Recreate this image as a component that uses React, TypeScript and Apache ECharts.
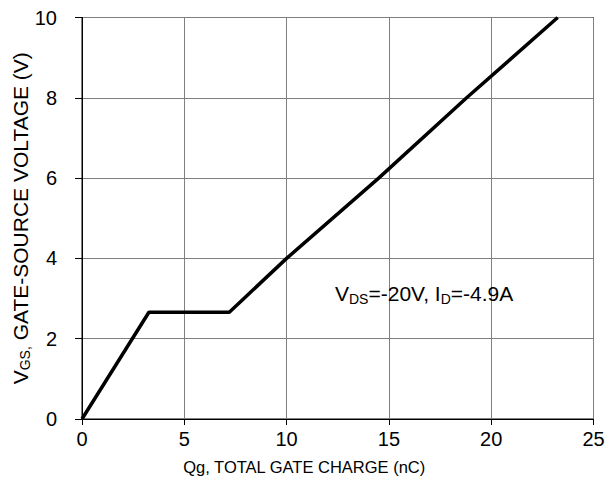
import React, { useEffect, useRef } from "react";
import * as echarts from "echarts";

const xTicks = [0, 5, 10, 15, 20, 25];
const yTicks = [0, 2, 4, 6, 8, 10];
const chargeNC = [0, 3.27, 7.2, 10.0, 14.5, 18.8, 23.25];
const gateVoltage = [0, 2.66, 2.66, 4.0, 6.0, 8.0, 10.0];
const xTitle = "Qg, TOTAL GATE CHARGE (nC)";
const annotation = { vds: "-20V", id: "-4.9A" };

const FONT = "'Liberation Sans', Arial, sans-serif";

export default function App() {
  const ref = useRef<HTMLDivElement>(null);
  useEffect(() => {
    if (!ref.current) return;
    const chart = echarts.init(ref.current, null, { renderer: "svg" });
    const data = chargeNC.map((x, i) => [x, gateVoltage[i]]);
    chart.setOption({
      animation: false,
      backgroundColor: "#ffffff",
      textStyle: { fontFamily: FONT, color: "#000" },
      grid: {
        left: 82,
        right: 16.5,
        top: 17.5,
        bottom: 82,
        containLabel: false,
        outerBoundsMode: "none",
        show: true,
        borderColor: "#000",
        borderWidth: 1,
        backgroundColor: "transparent",
      },
      xAxis: {
        type: "value",
        min: xTicks[0],
        max: xTicks[xTicks.length - 1],
        interval: 5,
        name: xTitle,
        nameLocation: "middle",
        nameGap: 39,
        nameMoveOverlap: false,
        nameTextStyle: { fontSize: 16.5, color: "#000", fontFamily: FONT, padding: [0, 67, 0, 0] },
        axisLine: { show: true, lineStyle: { color: "#000", width: 1 } },
        axisTick: { show: true, length: 6, lineStyle: { color: "#000" } },
        axisLabel: { fontSize: 20, color: "#000", margin: 10, fontFamily: FONT },
        splitLine: { show: true, lineStyle: { color: "#7f7f7f", width: 1 } },
      },
      yAxis: {
        type: "value",
        min: yTicks[0],
        max: yTicks[yTicks.length - 1],
        interval: 2,
        name: "{m|V}{s|GS,}{m| GATE-SOURCE VOLTAGE (V)}",
        nameLocation: "middle",
        nameGap: 50,
        nameMoveOverlap: false,
        nameTextStyle: {
          fontSize: 21,
          color: "#000",
          fontFamily: FONT,
          rich: {
            m: { fontSize: 21, color: "#000", fontFamily: FONT },
            s: { fontSize: 14, color: "#000", fontFamily: FONT, padding: [10, 0, 0, 0] },
          },
        },
        axisLine: { show: true, lineStyle: { color: "#000", width: 1 } },
        axisTick: { show: true, length: 7, lineStyle: { color: "#000" } },
        axisLabel: { fontSize: 20, color: "#000", margin: 25, fontFamily: FONT },
        splitLine: { show: true, lineStyle: { color: "#7f7f7f", width: 1 } },
      },
      graphic: [
        {
          type: "text",
          left: 335,
          top: 283,
          style: {
            text: `{m|V}{s|DS}{m|=${annotation.vds}, I}{s|D}{m|=${annotation.id}}`,
            rich: {
              m: { fontSize: 21, fill: "#000", fontFamily: FONT },
              s: { fontSize: 14, fill: "#000", fontFamily: FONT, padding: [10, 0, 0, 0] },
            },
          },
          z: 10,
        },
      ],
      series: [
        {
          type: "line",
          data,
          showSymbol: false,
          lineStyle: { color: "#000", width: 3.5 },
          z: 5,
        },
      ],
    });
    return () => chart.dispose();
  }, []);
  return (
    <div
      ref={ref}
      style={{ position: "fixed", left: 0, top: 0, width: 610, height: 501 }}
    />
  );
}
